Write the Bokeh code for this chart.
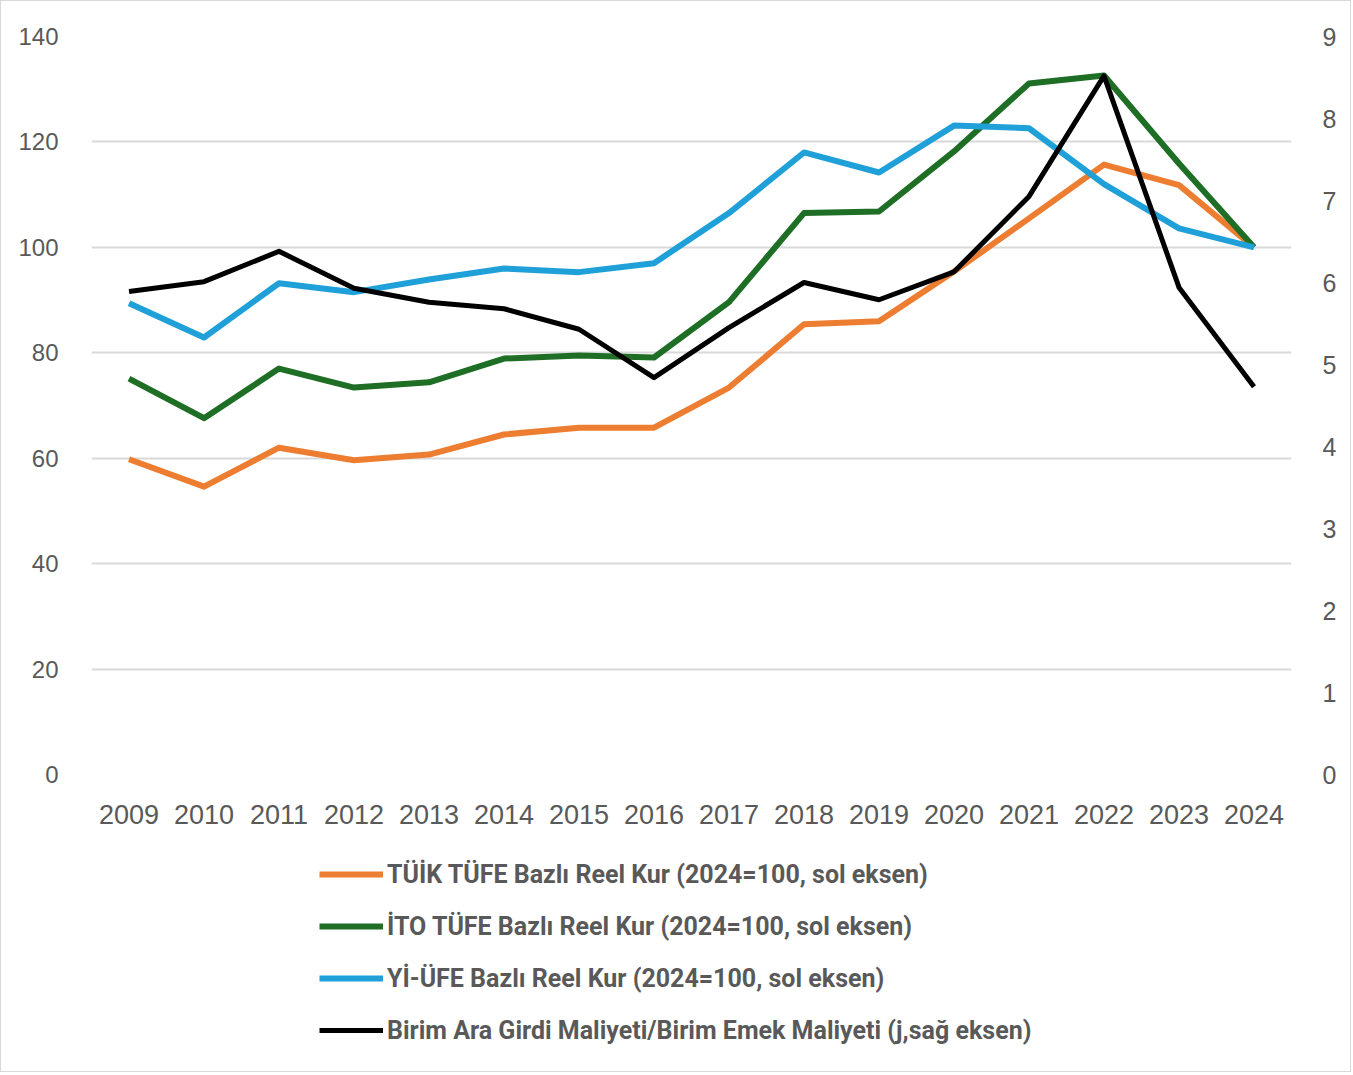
from bokeh.plotting import figure
from bokeh.layouts import column
from bokeh.models import Range1d, LinearAxis, FixedTicker, Legend, LegendItem
from bokeh.embed import file_html
from bokeh.resources import INLINE

years = [2009, 2010, 2011, 2012, 2013, 2014, 2015, 2016, 2017, 2018, 2019, 2020, 2021, 2022, 2023, 2024]
tuik = [59.8, 54.6, 62.0, 59.6, 60.7, 64.5, 65.8, 65.8, 73.4, 85.4, 86.0, 95.4, 105.5, 115.7, 111.8, 100.0]
ito = [75.1, 67.6, 77.0, 73.4, 74.4, 78.9, 79.5, 79.1, 89.6, 106.5, 106.8, 118.2, 131.1, 132.6, 115.9, 100.0]
yiufe = [89.4, 82.9, 93.2, 91.5, 93.9, 96.0, 95.3, 97.0, 106.5, 118.0, 114.2, 123.1, 122.6, 112.0, 103.6, 100.0]
birim = [5.89, 6.01, 6.38, 5.93, 5.76, 5.68, 5.43, 4.84, 5.45, 6.00, 5.79, 6.13, 7.05, 8.52, 5.94, 4.73]

labels = [
    "TÜİK TÜFE Bazlı Reel Kur (2024=100, sol eksen)",
    "İTO TÜFE Bazlı Reel Kur (2024=100, sol eksen)",
    "Yİ-ÜFE Bazlı Reel Kur (2024=100, sol eksen)",
    "Birim Ara Girdi Maliyeti/Birim Emek Maliyeti (j,sağ eksen)",
]
series = [tuik, ito, yiufe, birim]
colors = ["#ED7D31", "#1F6E25", "#1FA0D8", "black"]
widths = [6, 6, 6, 5]
left_ticks = [0, 20, 40, 60, 80, 100, 120, 140]
right_ticks = [0, 1, 2, 3, 4, 5, 6, 7, 8, 9]

TXT = "#595959"
TICK_FONT = "Liberation Sans"
W = 1349

p = figure(width=W, height=845, output_backend="svg", toolbar_location=None,
           x_range=Range1d(2008.5, 2024.5), y_range=Range1d(0, 140),
           min_border_left=90, min_border_right=59, min_border_top=35, min_border_bottom=72)
p.extra_y_ranges = {"right": Range1d(0, 9)}
p.outline_line_color = None
p.background_fill_color = "white"
p.border_fill_color = "white"

p.xgrid.visible = False
p.ygrid.ticker = FixedTicker(ticks=left_ticks)
p.ygrid.grid_line_color = "#d9d9d9"
p.ygrid.grid_line_width = 2

for ax in [p.xaxis[0], p.yaxis[0]]:
    ax.axis_line_color = None
    ax.major_tick_line_color = None
    ax.minor_tick_line_color = None
    ax.major_label_text_font = TICK_FONT
    ax.major_label_text_color = TXT

p.xaxis.ticker = FixedTicker(ticks=years)
p.xaxis.major_label_text_font_size = "27px"
p.xaxis.major_label_standoff = 24
p.yaxis.ticker = FixedTicker(ticks=left_ticks)
p.yaxis.major_label_text_font_size = "24px"
p.yaxis.major_label_standoff = 27

rax = LinearAxis(y_range_name="right", ticker=FixedTicker(ticks=right_ticks))
rax.axis_line_color = None
rax.major_tick_line_color = None
rax.minor_tick_line_color = None
rax.major_label_text_font = TICK_FONT
rax.major_label_text_font_size = "25px"
rax.major_label_text_color = TXT
rax.major_label_standoff = 25
p.add_layout(rax, "right")

p.line(years, tuik, line_color=colors[0], line_width=widths[0], line_join="round")
p.line(years, ito, line_color=colors[1], line_width=widths[1], line_join="round")
p.line(years, yiufe, line_color=colors[2], line_width=widths[2], line_join="round")
p.line(years, birim, line_color=colors[3], line_width=widths[3], line_join="round", y_range_name="right")

# legend panel (proxy lines use the real series, kept outside this panel's visible range)
lf = figure(width=W, height=225, output_backend="svg", toolbar_location=None,
            x_range=Range1d(0, 1), y_range=Range1d(0, 1),
            min_border_left=0, min_border_right=0, min_border_top=0, min_border_bottom=0)
lf.axis.visible = False
lf.grid.visible = False
lf.outline_line_color = None
lf.border_fill_color = "white"
items = []
for i in range(4):
    r = lf.line(years, series[i], line_color=colors[i], line_width=widths[i])
    items.append(LegendItem(label=labels[i], renderers=[r]))
legend = Legend(items=items, orientation="vertical", location=(228, 26))
legend.label_text_font = "Roboto"
legend.label_text_font_style = "bold"
legend.label_text_font_size = "25px"
legend.label_text_color = TXT
legend.glyph_width = 64
legend.glyph_height = 30
legend.label_height = 30
legend.spacing = 22
legend.label_standoff = 4
legend.border_line_color = None
legend.background_fill_alpha = 0
legend.padding = 0
legend.margin = 0
lf.add_layout(legend, "center")

layout = column(p, lf, spacing=0)
layout.styles = {"border": "1px solid #d9d9d9"}

open("out.html", "w").write(file_html(layout, INLINE))
